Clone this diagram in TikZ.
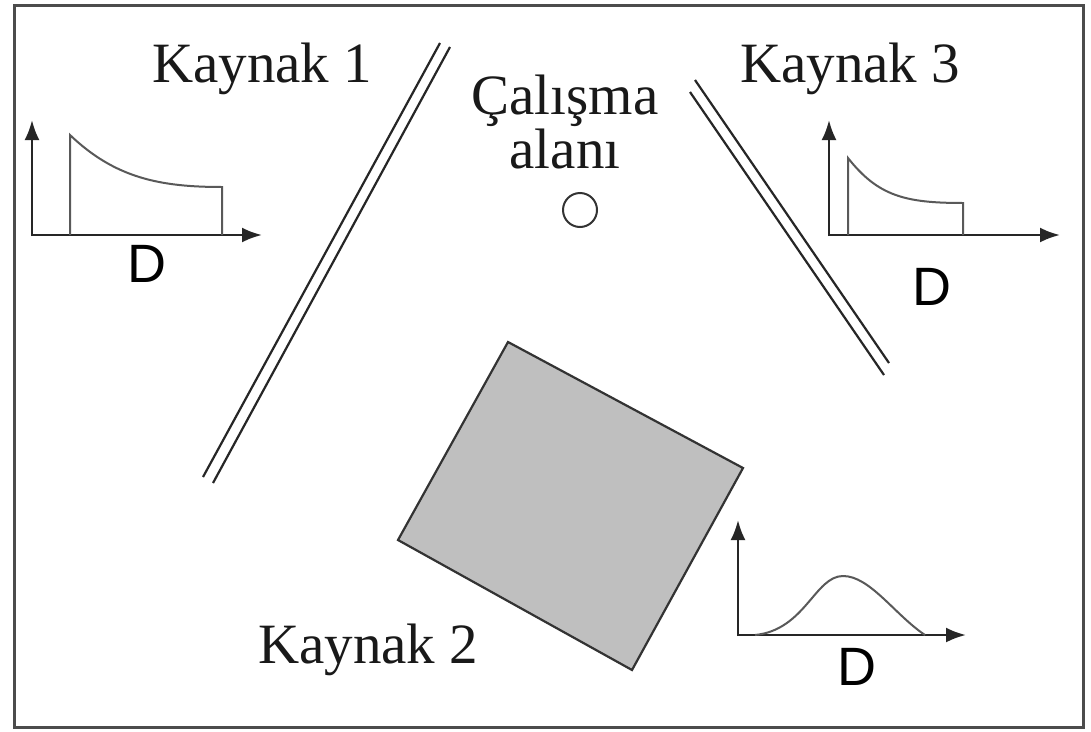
\documentclass[tikz,border=0pt]{standalone}
\usepackage{fontspec}
\setmainfont{Liberation Serif}
\newfontfamily\axisfont{Liberation Sans}
\usetikzlibrary{arrows.meta}

\tikzset{
  frame/.style={draw=black!70, line width=3pt},
  label/.style={inner sep=0pt, text=black!90, font=\fontsize{57}{57}\selectfont},
  dlabel/.style={inner sep=0pt, text=black, font=\axisfont\fontsize{54}{54}\selectfont},
  axis/.style={draw=black!85, line width=2.6pt, -{Latex[length=20pt,width=15pt]}},
  curve/.style={draw=black!65, line width=2pt},
  wall/.style={draw=black!85, line width=2.2pt},
  block/.style={draw=black!80, fill=black!25, line width=2.2pt},
  target/.style={draw=black!80, line width=2pt, circle, minimum size=34pt, inner sep=0pt}
}

\begin{document}
\begin{tikzpicture}[x=1pt, y=-1pt]
  \useasboundingbox (0,0) rectangle (1091,731);
  \fill[white] (0,0) rectangle (1091,731);

  % outer frame
  \draw[frame] (14,5) rectangle (1083,727);

  % labels
  \node[label, anchor=base west] (k1) at (152,82) {Kaynak 1};
  \node[label, anchor=base west] (k3) at (740,82) {Kaynak 3};
  \node[label, anchor=base west] (k2) at (258,663) {Kaynak 2};
  \node[label, anchor=base] (cal) at (565,114) {Çalışma};
  \node[label, anchor=base] (alan) at (565,168) {alanı};

  % working area
  \node[target] (wa) at (580,210) {};

  % source 1: double wall
  \draw[wall] (440,43) -- (203,477);
  \draw[wall] (450,47) -- (213,483);

  % source 3: double wall
  \draw[wall] (695,80) -- (889,363);
  \draw[wall] (690,92) -- (884,375);

  % source 2: tilted block
  \draw[block] (508,342) -- (743,468) -- (632,670) -- (398,540) -- cycle;

  % distribution for source 1
  \draw[axis] (32,236) -- (32,120);
  \draw[axis] (32,235) -- (262,235);
  \draw[curve] (70,235) -- (70,135) .. controls (115,178) and (160,187) .. (222,187) -- (222,235);
  \node[dlabel, anchor=base] (d1) at (147,282) {D};

  % distribution for source 3
  \draw[axis] (829,236) -- (829,120);
  \draw[axis] (829,235) -- (1060,235);
  \draw[curve] (848,235) -- (848,158) .. controls (878,196) and (905,203) .. (963,203) -- (963,235);
  \node[dlabel, anchor=base] (d3) at (932,305) {D};

  % distribution for source 2
  \draw[axis] (738,636) -- (738,520);
  \draw[axis] (738,635) -- (966,635);
  \draw[curve] (755,635) .. controls (805,630) and (815,576) .. (843,576)
               .. controls (870,576) and (895,615) .. (925,635);
  \node[dlabel, anchor=base] (d2) at (857,685) {D};
\end{tikzpicture}
\end{document}
